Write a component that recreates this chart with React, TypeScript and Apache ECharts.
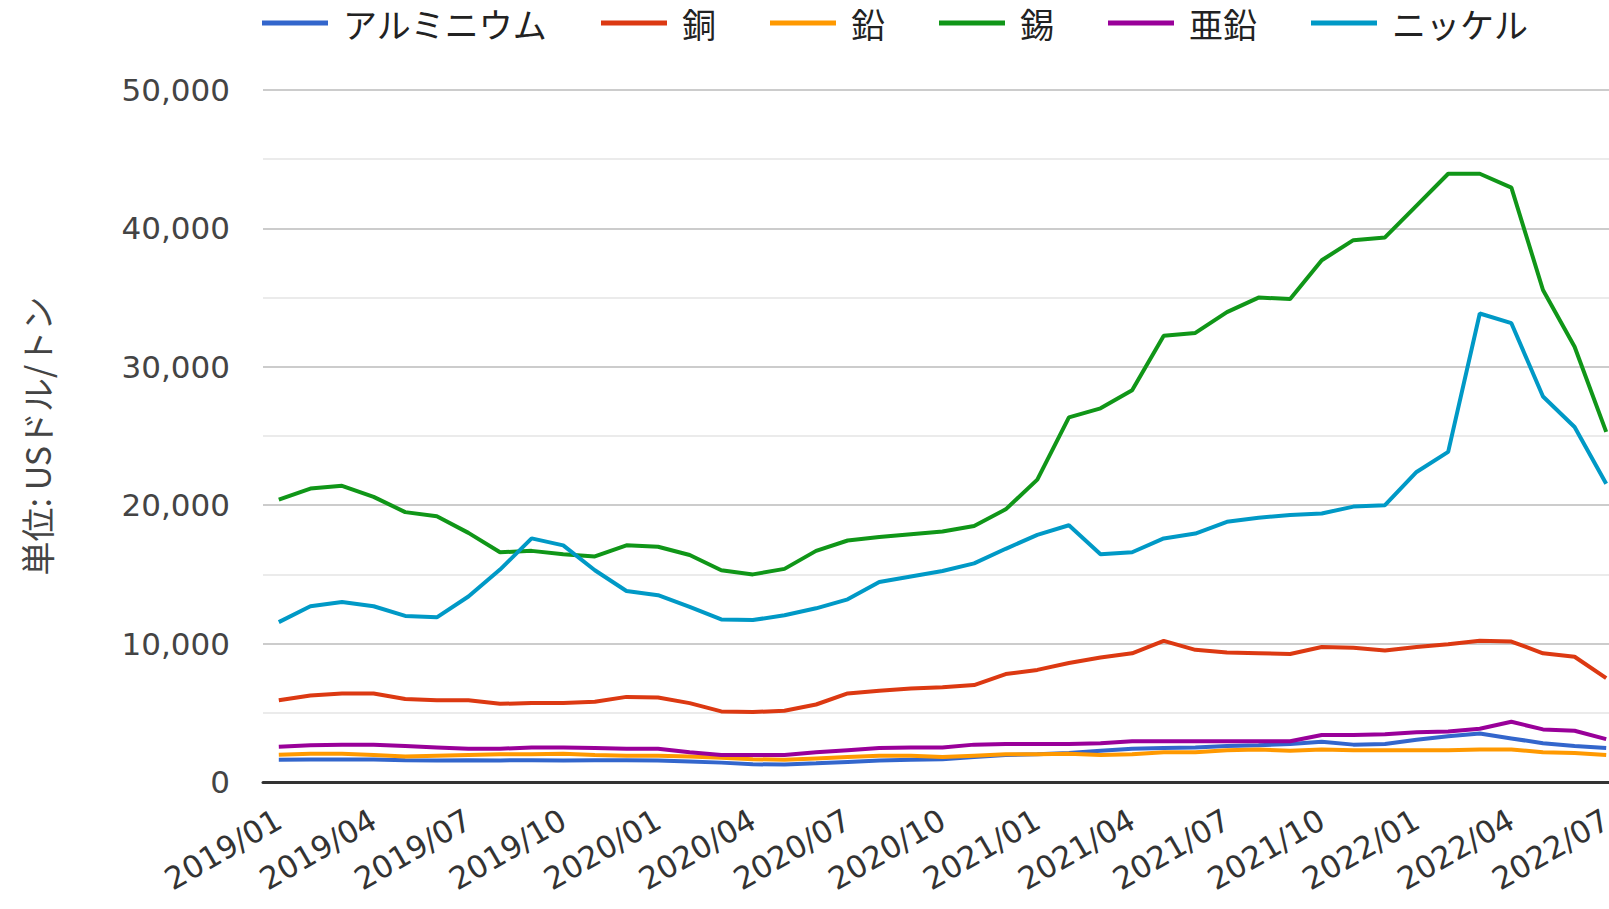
import React, { useEffect, useRef } from "react";
import * as echarts from "echarts";

const months = [
  "2019/01","2019/02","2019/03","2019/04","2019/05","2019/06","2019/07","2019/08","2019/09","2019/10","2019/11","2019/12",
  "2020/01","2020/02","2020/03","2020/04","2020/05","2020/06","2020/07","2020/08","2020/09","2020/10","2020/11","2020/12",
  "2021/01","2021/02","2021/03","2021/04","2021/05","2021/06","2021/07","2021/08","2021/09","2021/10","2021/11","2021/12",
  "2022/01","2022/02","2022/03","2022/04","2022/05","2022/06","2022/07",
];

const aluminium = [1600, 1620, 1630, 1620, 1580, 1560, 1580, 1560, 1570, 1560, 1580, 1580, 1560, 1480, 1400, 1280, 1260, 1350, 1450, 1550, 1600, 1650, 1800, 1950, 2000, 2100, 2250, 2400, 2450, 2500, 2600, 2650, 2750, 2900, 2700, 2750, 3050, 3300, 3500, 3150, 2800, 2600, 2450];
const copper = [5900, 6250, 6400, 6400, 6000, 5900, 5900, 5650, 5700, 5700, 5800, 6150, 6100, 5700, 5100, 5050, 5150, 5600, 6400, 6600, 6750, 6850, 7000, 7800, 8100, 8600, 9000, 9300, 10200, 9550, 9350, 9300, 9250, 9750, 9700, 9500, 9750, 9950, 10200, 10150, 9300, 9050, 7500];
const lead = [1970, 2050, 2050, 1950, 1850, 1900, 1950, 2000, 2000, 2050, 1950, 1900, 1900, 1850, 1750, 1650, 1600, 1700, 1800, 1900, 1900, 1800, 1900, 2000, 2000, 2050, 1950, 2000, 2150, 2150, 2300, 2350, 2250, 2350, 2300, 2300, 2300, 2300, 2350, 2350, 2150, 2100, 1950];
const tin = [20400, 21200, 21400, 20600, 19500, 19200, 18000, 16600, 16700, 16450, 16300, 17100, 17000, 16400, 15300, 15000, 15400, 16700, 17450, 17700, 17900, 18100, 18500, 19700, 21850, 26350, 27000, 28300, 32250, 32450, 33950, 35000, 34900, 37700, 39150, 39350, 41650, 43950, 43950, 42950, 35550, 31450, 25300];
const zinc = [2550, 2650, 2700, 2700, 2600, 2500, 2400, 2400, 2500, 2500, 2450, 2400, 2400, 2150, 1950, 1950, 1950, 2150, 2300, 2450, 2500, 2500, 2700, 2750, 2750, 2750, 2800, 2950, 2950, 2950, 2950, 2950, 2950, 3400, 3400, 3450, 3600, 3650, 3850, 4350, 3800, 3700, 3100];
const nickel = [11550, 12700, 13000, 12700, 12000, 11900, 13400, 15350, 17600, 17100, 15300, 13800, 13500, 12650, 11750, 11700, 12050, 12550, 13200, 14450, 14850, 15250, 15800, 16850, 17850, 18550, 16450, 16600, 17600, 17950, 18800, 19100, 19300, 19400, 19900, 20000, 22400, 23850, 33850, 33150, 27850, 25650, 21550];

const seriesNames = ["アルミニウム", "銅", "鉛", "錫", "亜鉛", "ニッケル"];
const seriesData = [aluminium, copper, lead, tin, zinc, nickel];
const colors = ["#3366cc", "#dc3912", "#ff9900", "#109618", "#990099", "#0099c6"];
const yTitle = "単位: USドル/トン";

export default function App() {
  const ref = useRef<HTMLDivElement>(null);
  useEffect(() => {
    if (!ref.current) return;
    const chart = echarts.init(ref.current, undefined, { renderer: "svg" });
    chart.setOption({
      animation: false,
      color: colors,
      legend: {
        top: 6,
        left: 262,
        padding: 0,
        icon: "rect",
        itemWidth: 66,
        itemHeight: 5,
        itemGap: 54,
        textStyle: {
          fontFamily: "Noto Sans CJK JP",
          fontSize: 34,
          color: "#222",
          padding: [0, 0, 0, 10],
        },
        data: seriesNames,
      },
      grid: { left: 263, right: 0, top: 90, bottom: 127, containLabel: false },
      xAxis: {
        type: "category",
        data: months,
        boundaryGap: true,
        axisLine: { show: true, lineStyle: { color: "#333", width: 3 } },
        axisTick: { show: false },
        axisLabel: {
          interval: 2,
          rotate: 30,
          margin: 35,
          fontFamily: "DejaVu Sans",
          fontSize: 31,
          color: "#333",
        },
      },
      yAxis: {
        type: "value",
        min: 0,
        max: 50000,
        interval: 10000,
        name: yTitle,
        nameLocation: "middle",
        nameRotate: 90,
        nameGap: 210,
        nameTextStyle: { fontFamily: "Noto Sans CJK JP", fontSize: 34, color: "#444" },
        axisLine: { show: false },
        axisTick: { show: false },
        axisLabel: {
          margin: 33,
          fontFamily: "DejaVu Sans",
          fontSize: 31,
          color: "#444",
          formatter: (v: number) => v.toLocaleString("en-US"),
        },
        splitLine: { show: true, lineStyle: { color: "#cccccc", width: 2 } },
        minorTick: { show: false, splitNumber: 2 },
        minorSplitLine: { show: true, lineStyle: { color: "#ebebeb", width: 2 } },
      },
      series: seriesNames.map((name, i) => ({
        name,
        type: "line",
        data: seriesData[i],
        symbol: "none",
        lineStyle: { width: 4, color: colors[i] },
        itemStyle: { color: colors[i] },
      })),
    });
    return () => chart.dispose();
  }, []);
  return (
    <div
      ref={ref}
      style={{ position: "fixed", left: 0, top: 0, width: 1622, height: 909, background: "#fff" }}
    />
  );
}
